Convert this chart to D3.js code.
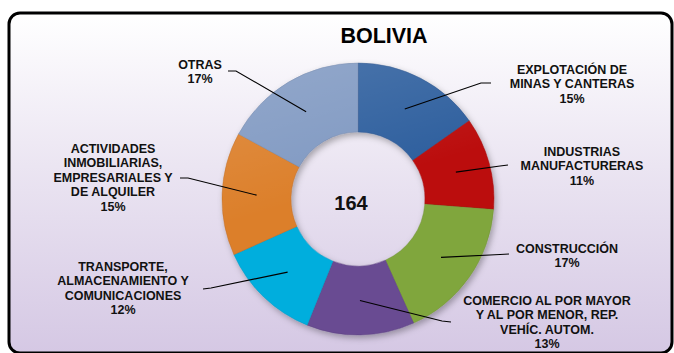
<!DOCTYPE html>
<html>
<head>
    <meta charset="UTF-8">
    <title>Bolivia</title>
    <script src="https://d3js.org/d3.v7.min.js"></script>
    <style>
        html, body { margin: 0; padding: 0; background: #ffffff; }
        svg { display: block; }
        text { font-family: "Liberation Sans", Arial, sans-serif; font-weight: bold; }
    </style>
</head>
<body>
    <div id="chart"></div>
    <script>
        // data
        const title = 'BOLIVIA';
        const categories = [
            'EXPLOTACIÓN DE|MINAS Y CANTERAS',
            'INDUSTRIAS|MANUFACTURERAS',
            'CONSTRUCCIÓN',
            'COMERCIO AL POR MAYOR|Y AL POR MENOR, REP.|VEHÍC. AUTOM.',
            'TRANSPORTE,|ALMACENAMIENTO Y|COMUNICACIONES',
            'ACTIVIDADES|INMOBILIARIAS,|EMPRESARIALES Y|DE ALQUILER',
            'OTRAS'
        ];
        const counts = [25, 18, 28, 21, 20, 24, 28];
        const colors = ['#3469b0', '#d00a0a', '#8fb944', '#7553a2', '#00c2f6', '#f58d30', '#8eaad8'];

        // label placement: text centre x, first baseline, leader start and knee
        const labelLayout = [
            { x: 572, y: 74, sx: 491, sy: 83, kx: 481, ky: 83 },
            { x: 582, y: 156, sx: 508, sy: 165, kx: 500, ky: 166 },
            { x: 567, y: 253, sx: 509, sy: 254, kx: 500, ky: 254.5 },
            { x: 547, y: 305, sx: 451, sy: 322, kx: 442, ky: 321 },
            { x: 123, y: 271, sx: 203, sy: 289, kx: 211, ky: 288 },
            { x: 113, y: 153, sx: 180, sy: 178, kx: 188, ky: 178 },
            { x: 200, y: 69, sx: 228, sy: 71, kx: 236, ky: 71 }
        ];

        const W = 674, H = 353;
        const cx = 358, cy = 199, rOuter = 136, rInner = 67;
        const total = d3.sum(counts);

        const svg = d3.select('#chart').append('svg')
            .attr('width', W).attr('height', H);
        const defs = svg.append('defs');

        // background gradient
        const bg = defs.append('linearGradient').attr('id', 'bg')
            .attr('x1', 0).attr('y1', 0).attr('x2', 0).attr('y2', 1);
        bg.append('stop').attr('offset', '0%').attr('stop-color', '#ffffff');
        bg.append('stop').attr('offset', '45%').attr('stop-color', '#ebe5f2');
        bg.append('stop').attr('offset', '100%').attr('stop-color', '#d5c8e4');

        const shadow = defs.append('filter').attr('id', 'shadow')
            .attr('x', '-20%').attr('y', '-20%').attr('width', '140%').attr('height', '140%');
        shadow.append('feDropShadow').attr('dx', 2).attr('dy', 3)
            .attr('stdDeviation', 3).attr('flood-color', '#000').attr('flood-opacity', 0.3);

        svg.append('rect')
            .attr('x', 9).attr('y', 13).attr('width', 663).attr('height', 340)
            .attr('rx', 11).attr('ry', 11)
            .attr('fill', 'url(#bg)')
            .attr('stroke', '#000').attr('stroke-width', 3);

        svg.append('text')
            .attr('x', 384).attr('y', 43)
            .attr('text-anchor', 'middle')
            .attr('font-size', 21.5)
            .attr('fill', '#000')
            .text(title);

        const pie = d3.pie().sort(null).value(d => d);
        const arcs = pie(counts);
        const arc = d3.arc().innerRadius(rInner).outerRadius(rOuter);

        // bevel-like shading per slice
        const k = rInner / rOuter;
        colors.forEach((c, i) => {
            const g = defs.append('radialGradient').attr('id', 'g' + i)
                .attr('gradientUnits', 'userSpaceOnUse')
                .attr('cx', cx).attr('cy', cy).attr('r', rOuter);
            const base = d3.color(c);
            g.append('stop').attr('offset', k).attr('stop-color', base.darker(0.5));
            g.append('stop').attr('offset', k + 0.04).attr('stop-color', base);
            g.append('stop').attr('offset', 0.86).attr('stop-color', base);
            g.append('stop').attr('offset', 0.95).attr('stop-color', base.brighter(0.25));
            g.append('stop').attr('offset', 1).attr('stop-color', base.darker(0.3));
        });

        const hl = defs.append('linearGradient').attr('id', 'hl')
            .attr('x1', 0).attr('y1', 0).attr('x2', 0.3).attr('y2', 1);
        hl.append('stop').attr('offset', '0%').attr('stop-color', '#fff').attr('stop-opacity', 0.15);
        hl.append('stop').attr('offset', '55%').attr('stop-color', '#fff').attr('stop-opacity', 0);

        const donut = svg.append('g').attr('transform', `translate(${cx},${cy})`);
        donut.append('g').attr('filter', 'url(#shadow)')
            .selectAll('path').data(arcs).join('path')
            .attr('d', arc)
            .attr('fill', (d, i) => `url(#g${i})`)
            .attr('stroke', (d, i) => d3.color(colors[i]).darker(0.8))
            .attr('stroke-opacity', 0.4)
            .attr('stroke-width', 1);
        donut.append('path')
            .attr('d', d3.arc().innerRadius(rInner).outerRadius(rOuter)({ startAngle: 0, endAngle: 2 * Math.PI }))
            .attr('fill', 'url(#hl)')
            .attr('pointer-events', 'none');

        donut.append('text')
            .attr('x', -7).attr('y', 11)
            .attr('text-anchor', 'middle')
            .attr('font-size', 20)
            .attr('fill', '#111')
            .text(total);

        // leader lines and labels
        const lines = svg.append('g');
        const labels = svg.append('g');
        arcs.forEach((d, i) => {
            const L = labelLayout[i];
            const [px, py] = arc.centroid(d);
            lines.append('polyline')
                .attr('points', `${L.sx},${L.sy} ${L.kx},${L.ky} ${cx + px},${cy + py}`)
                .attr('fill', 'none')
                .attr('stroke', '#000')
                .attr('stroke-width', 1.1);

            const rows = categories[i].split('|');
            rows.push(Math.round(counts[i] / total * 100) + '%');
            const t = labels.append('text')
                .attr('text-anchor', 'middle')
                .attr('font-size', 12.5)
                .attr('fill', '#111');
            rows.forEach((r, j) => {
                t.append('tspan').attr('x', L.x).attr('y', L.y + j * 14.4).text(r);
            });
        });
    </script>
</body>
</html>
